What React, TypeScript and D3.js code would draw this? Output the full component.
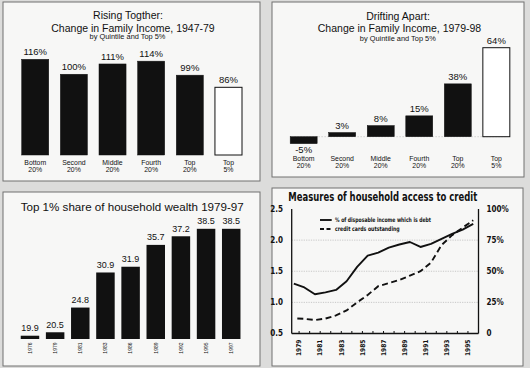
import React from "react";
import * as d3 from "d3";

const quintileLabels = ["Bottom", "Second", "Middle", "Fourth", "Top", "Top"];
const quintileSubLabels = ["20%", "20%", "20%", "20%", "20%", "5%"];
const change4779 = [116, 100, 111, 114, 99, 86];
const change7998 = [-5, 3, 8, 15, 38, 64];

const wealthYears = ["1976", "1979", "1981", "1983", "1986", "1989", "1992", "1995", "1997"];
const wealthShare = [19.9, 20.5, 24.8, 30.9, 31.9, 35.7, 37.2, 38.5, 38.5];

const creditYears = [1978, 1979, 1980, 1981, 1982, 1983, 1984, 1985, 1986, 1987, 1988, 1989, 1990, 1991, 1992, 1993, 1994, 1995];
const debtRatio = [1.3, 1.24, 1.13, 1.16, 1.2, 1.34, 1.57, 1.75, 1.8, 1.88, 1.93, 1.97, 1.89, 1.94, 2.02, 2.1, 2.17, 2.26];
const creditCards = [12.2, 11.8, 10.8, 12, 14.5, 18.5, 25, 31, 38, 40.5, 43, 46.5, 50, 57, 71, 79, 85, 91];
const leftTicks = [0.5, 1.0, 1.5, 2.0, 2.5];
const rightTicks = [0, 25, 50, 75, 100];
const tickYears = d3.range(1979, 1996);
const labelYears = [1979, 1981, 1983, 1985, 1987, 1989, 1991, 1993, 1995];

const FONT = "'Liberation Sans', Arial, Helvetica, sans-serif";
const INK = "#111";

function Panel({ x, y, w, h }: { x: number; y: number; w: number; h: number }) {
  return <rect x={x} y={y} width={w} height={h} fill="#f7f7f6" stroke="#707070" strokeWidth={1} />;
}

function QuintileChart({
  values, range, yScale, titles, titleX, titleYs, catY, negOffset,
}: any) {
  const xs = d3.scaleBand<number>().domain(d3.range(values.length)).range(range).paddingInner(0.3).paddingOuter(0.15);
  const zero = yScale(Math.max(0, yScale.domain()[0]));
  return (
    <g>
      <text x={titleX[0]} y={titleYs[0]} fontSize={10.5} textAnchor="middle" fill={INK}>{titles[0]}</text>
      <text x={titleX[1]} y={titleYs[1]} fontSize={10.5} textAnchor="middle" fill={INK}>{titles[1]}</text>
      <text x={titleX[2]} y={titleYs[2]} fontSize={7.4} textAnchor="middle" fill={INK}>{titles[2]}</text>
      {negOffset && (
        <line x1={range[0] + 10} x2={range[1] - 10} y1={zero} y2={zero} stroke="#c8c8c8" strokeWidth={0.8} strokeDasharray="1.5,1.5" />
      )}
      {values.map((v: number, i: number) => {
        const bx = xs(i)!;
        const bw = xs.bandwidth();
        const yv = yScale(v);
        const top = Math.min(yv, zero);
        const hh = Math.abs(zero - yv);
        const last = i === values.length - 1;
        const cx = bx + bw / 2;
        return (
          <g key={i}>
            <rect x={bx} y={top} width={bw} height={hh} fill={last ? "#fff" : INK} stroke={INK} strokeWidth={last ? 1 : 0.5} />
            <text x={cx} y={v < 0 ? yv + 9 : yv - 4} fontSize={9.5} textAnchor="middle" fill={INK}>{v}%</text>
            <text x={cx} y={catY} fontSize={6.9} textAnchor="middle" fill={INK}>{quintileLabels[i]}</text>
            <text x={cx} y={catY + 6.9} fontSize={6.9} textAnchor="middle" fill={INK}>{quintileSubLabels[i]}</text>
          </g>
        );
      })}
    </g>
  );
}

function WealthChart() {
  const xs = d3.scaleBand<string>().domain(wealthYears).range([17.4, 243.8]).paddingInner(0.265).paddingOuter(0.1325);
  const ys = d3.scaleLinear().domain([19.33, 38.5]).range([339, 228.8]);
  return (
    <g>
      <text x={20.7} y={210.7} fontSize={11.6} fill={INK}>Top 1% share of household wealth 1979-97</text>
      {wealthYears.map((yr, i) => {
        const bx = xs(yr)!;
        const bw = xs.bandwidth();
        const cx = bx + bw / 2;
        const v = wealthShare[i];
        return (
          <g key={yr}>
            <rect x={bx} y={ys(v)} width={bw} height={ys(19.33) - ys(v)} fill={INK} />
            <text x={cx} y={ys(v) - 4.5} fontSize={9} textAnchor="middle" fill={INK}>{v.toFixed(1)}</text>
            <text transform={`translate(${cx + 1.8},342.5) rotate(-90)`} fontSize={5} textAnchor="end" fill={INK}>{yr}</text>
          </g>
        );
      })}
    </g>
  );
}

function CreditChart() {
  const left = 291.7, right = 478.5, top = 209, bottom = 333.5;
  const xs = d3.scaleLinear().domain([1978.3, 1996]).range([left, right]);
  const yl = d3.scaleLinear().domain([0.5, 2.5]).range([bottom, top]);
  const yr = d3.scaleLinear().domain([0, 100]).range([bottom, top]);
  const solid = d3.line<number>().x((_, i) => xs(creditYears[i] + 0.5)).y((d) => yl(d));
  const dashed = d3.line<number>().x((_, i) => xs(creditYears[i] + 0.5)).y((d) => yr(d));
  const cfont = "'Liberation Sans Narrow', 'DejaVu Sans Condensed', 'Liberation Sans', Arial, sans-serif";
  return (
    <g fontFamily={cfont}>
      <text x={288.3} y={201} fontSize={12} fontWeight="bold" textLength={189} lengthAdjust="spacingAndGlyphs" fill={INK}>
        Measures of household access to credit
      </text>
      {[1.0, 1.5, 2.0].map((t) => (
        <line key={t} x1={left} x2={right} y1={yl(t)} y2={yl(t)} stroke="#b5b5b5" strokeWidth={0.7} strokeDasharray="1.2,1.2" />
      ))}
      <line x1={left} x2={left} y1={top} y2={bottom} stroke={INK} strokeWidth={1.3} />
      <line x1={right} x2={right} y1={top} y2={bottom} stroke={INK} strokeWidth={1.3} />
      <line x1={left} x2={right} y1={bottom} y2={bottom} stroke={INK} strokeWidth={1.3} />
      {tickYears.map((yy) => (
        <line key={yy} x1={xs(yy)} x2={xs(yy)} y1={bottom} y2={bottom - 2.5} stroke={INK} strokeWidth={1} />
      ))}
      {labelYears.map((yy) => (
        <text key={yy} transform={`translate(${xs(yy) + 2.3},339.5) rotate(-90)`} fontSize={6.6} fontWeight="bold" textAnchor="end" fill={INK}>{yy}</text>
      ))}
      {leftTicks.map((t) => (
        <text key={t} x={283} y={yl(t) + 2.8} fontSize={8} fontWeight="bold" textAnchor="end" fill={INK}>{t.toFixed(1)}</text>
      ))}
      {rightTicks.map((t) => (
        <text key={t} x={486.5} y={yr(t) + 2.8} fontSize={8} fontWeight="bold" fill={INK}>{t === 0 ? "0" : `${t}%`}</text>
      ))}
      <path d={solid(debtRatio)!} fill="none" stroke={INK} strokeWidth={1.9} strokeLinejoin="round" />
      <path d={dashed(creditCards)!} fill="none" stroke={INK} strokeWidth={1.9} strokeDasharray="6,3.5" strokeDashoffset={6} />
      <line x1={320} x2={331.7} y1={220} y2={220} stroke={INK} strokeWidth={1.9} />
      <line x1={320} x2={331.7} y1={229} y2={229} stroke={INK} strokeWidth={1.9} strokeDasharray="4,2.5" />
      <text x={335} y={222.2} fontSize={6.2} fontWeight="bold" textLength={96} lengthAdjust="spacingAndGlyphs" fill={INK}>
        % of disposable income which is debt
      </text>
      <text x={335} y={231.2} fontSize={6.2} fontWeight="bold" textLength={64.7} lengthAdjust="spacingAndGlyphs" fill={INK}>
        credit cards outstanding
      </text>
    </g>
  );
}

export default function App() {
  const y1 = d3.scaleLinear().domain([13.5, 116]).range([155, 59.3]);
  const y2 = d3.scaleLinear().domain([0, 64]).range([136.7, 47.7]);
  return (
    <svg width={530} height={368} style={{ position: "absolute", left: 0, top: 0 }} fontFamily={FONT}>
      <rect x={0} y={0} width={530} height={368} fill="#dcdcdb" />
      <Panel x={3} y={2} w={257} h={179} />
      <Panel x={272} y={2} w={252} h={175} />
      <Panel x={3} y={192} w={257} h={174} />
      <Panel x={272} y={188} w={251} h={178} />
      <QuintileChart
        values={change4779}
        range={[15.9, 247.8]}
        yScale={y1}
        titles={["Rising Togther:", "Change in Family Income, 1947-79", "by Quintile and Top 5%"]}
        titleX={[128, 133, 127.5]}
        titleYs={[19.3, 31.7, 39.3]}
        catY={165.3}
        negOffset={false}
      />
      <QuintileChart
        values={change7998}
        range={[284.4, 515.6]}
        yScale={y2}
        titles={["Drifting Apart:", "Change in Family Income, 1979-98", "by Quintile and Top 5%"]}
        titleX={[398, 399.5, 397.8]}
        titleYs={[20, 32.3, 40.7]}
        catY={161.3}
        negOffset={true}
      />
      <WealthChart />
      <CreditChart />
    </svg>
  );
}
